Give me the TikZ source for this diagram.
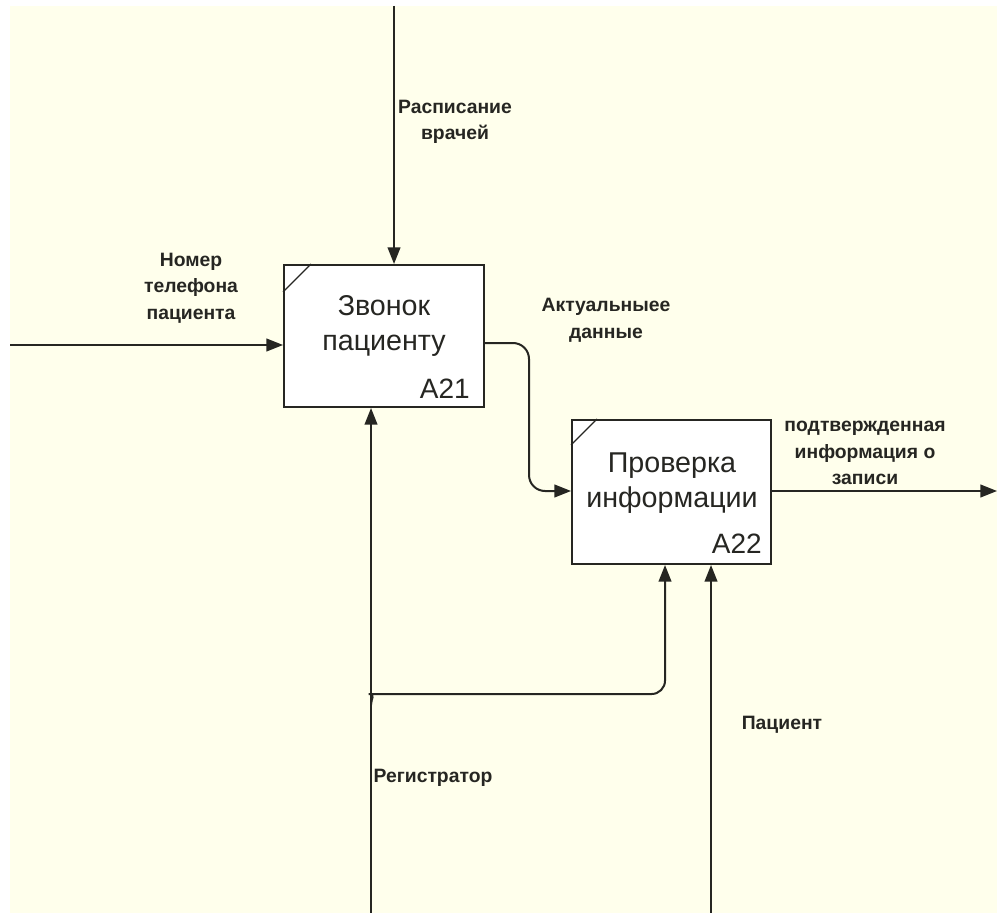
\documentclass[tikz,border=0pt]{standalone}
\usepackage{fontspec}
\setmainfont{Liberation Sans}
\usetikzlibrary{arrows.meta}
\definecolor{bg}{RGB}{255,255,236}
\definecolor{ln}{RGB}{38,38,34}
\begin{document}
\begin{tikzpicture}[x=0.75pt,y=-0.75pt,
  box/.style={draw=ln,line width=1.5pt,fill=white,inner sep=0pt},
  arr/.style={draw=ln,line width=1.5pt,-{Triangle[length=12.5pt,width=9.5pt]}},
  lbl/.style={font=\bfseries\fontsize{14.5}{20}\selectfont,align=center,text=ln,inner sep=0pt},
  ttl/.style={font=\fontsize{21.5}{26}\selectfont,align=center,text=ln,inner sep=0pt},
  num/.style={font=\fontsize{21}{24}\selectfont,text=ln,inner sep=0pt}]
\useasboundingbox (0,0) rectangle (997,913);
\fill[white] (0,0) rectangle (997,913);
\fill[bg] (10,6) rectangle (997,913);
% boxes
\node[box,minimum width=150pt,minimum height=106.5pt] (a21) at (384,336) {};
\node[box,minimum width=149.25pt,minimum height=108pt] (a22) at (671.5,492) {};
\draw[ln,line width=1pt] (a21.north west) ++(0,28) -- ++(28,-28);
\draw[ln,line width=1pt] (a22.north west) ++(0,26) -- ++(26,-26);
\node[ttl] (t21) at (384,326) {Звонок\\пациенту};
\node[num,anchor=base east] (n21) at (470,398) {A21};
\node[ttl] (t22) at (672,483) {Проверка\\информации};
\node[num,anchor=base east] (n22) at (762,553) {A22};
% labels
\node[lbl] (lsched) at (455,122) {Расписание\\врачей};
\node[lbl] (lphone) at (191,288) {Номер\\телефона\\пациента};
\node[lbl] (lact) at (606,320) {Актуальныее\\данные};
\node[lbl] (lout) at (865,453) {подтвержденная\\информация о\\записи};
\node[lbl] (lpat) at (782,725) {Пациент};
\node[lbl] (lreg) at (433,778) {Регистратор};
% free ends
\coordinate (topin) at (394,6);
\coordinate (leftin) at (10,345);
\coordinate (outend) at (997,491);
\coordinate (regin) at (371,913);
\coordinate (patin) at (711,913);
\coordinate (branch) at (371,705);
\coordinate (regup) at (665,694);
\coordinate (actA) at (529,343);
\coordinate (actB) at (529,491);
% connectors
\draw[arr] (topin) -- (topin |- a21.north);
\draw[arr] (leftin) -- (leftin -| a21.west);
\draw[arr,rounded corners=12] (a21.east |- actA) -- (actA) -- (actB) -- (a22.west |- actB);
\draw[arr] (a22.east |- outend) -- (outend);
\draw[arr] (regin) -- (regin |- a21.south);
\draw[arr,rounded corners=10] (branch) to[out=90,in=180] (382,694) -- (regup) -- (regup |- a22.south);
\draw[arr] (patin) -- (patin |- a22.south);
\end{tikzpicture}
\end{document}
